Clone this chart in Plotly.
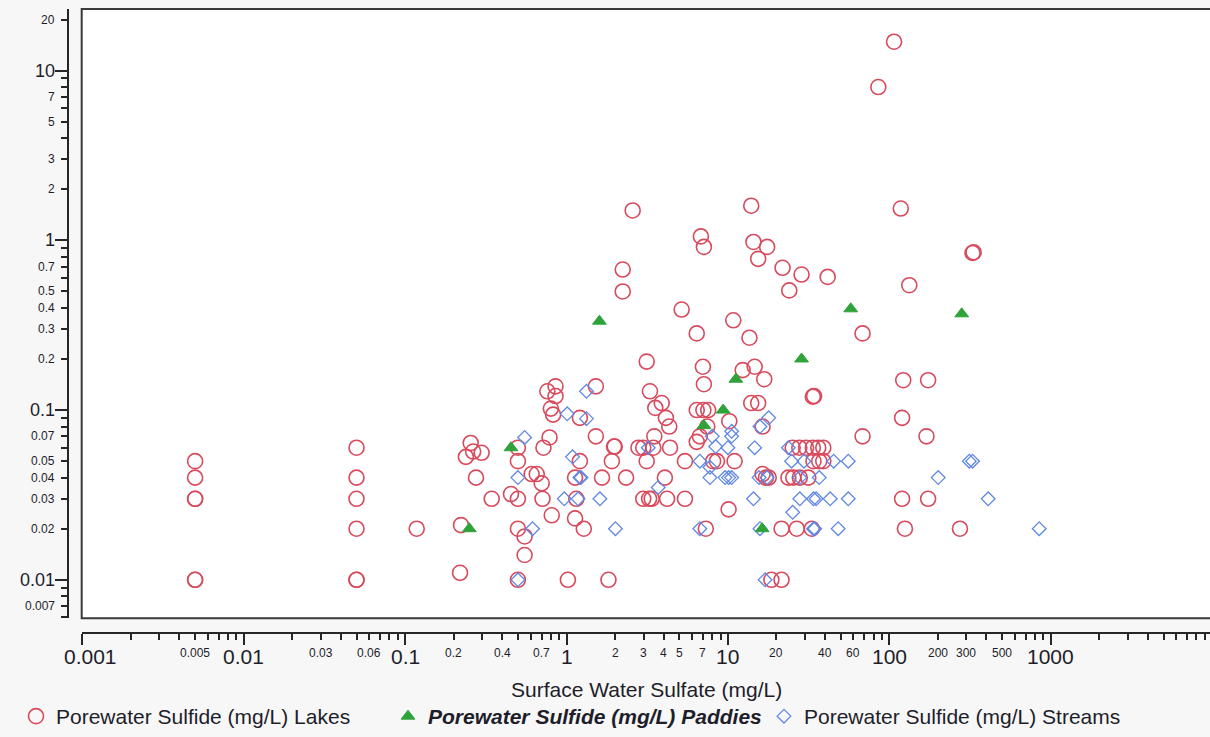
import plotly.graph_objects as go
import math

# ---------------- data ----------------
LAKES_X = [0.005, 0.005, 0.005, 0.005, 0.005, 0.005,
           0.05, 0.05, 0.05, 0.05, 0.05, 0.05,
           0.118, 0.219, 0.222, 0.255, 0.238, 0.264, 0.298, 0.275, 0.344,
           0.50, 0.50, 0.453, 0.50, 0.50, 0.55, 0.55, 0.50,
           0.608, 0.654, 0.702, 0.71, 0.81, 0.72, 0.785,
           0.761, 0.855, 0.855, 0.80, 0.826,
           1.52, 1.21, 1.52, 1.21, 1.13, 1.66, 1.97, 1.99, 1.91, 1.15, 1.13, 1.28, 1.02, 1.82,
           6.41, 13.6, 68.3, 3.14, 7.0, 7.1, 12.35, 14.65, 16.8,
           3.29, 3.55, 3.89, 4.13, 4.33, 6.41, 7.05, 7.55, 10.2, 13.95, 15.4,
           33.6, 34.2, 122, 174, 120, 68.3, 170, 7.45, 6.41, 6.7, 3.5,
           2.79, 2.99, 3.45, 4.38, 16.4,
           25.2, 27.7, 30.5, 33.6, 36.3, 39.0,
           3.14, 5.42, 8.1, 8.55, 11.0, 33.9, 36.8, 39.0,
           2.34, 4.07, 16.4, 17.2, 17.9, 23.7, 25.4, 27.9, 31.5,
           2.99, 3.25, 3.37, 4.2, 5.42, 10.1, 120, 174,
           7.3, 21.5, 26.7, 33.1, 125, 274,
           18.6, 21.5,
           2.57, 13.95, 117.8, 6.8, 7.1, 14.4, 17.5, 15.4, 328, 333,
           2.23, 2.23, 21.8, 28.6, 41.5, 24.0, 133, 5.17, 10.8,
           107, 85.5]
LAKES_Y = [0.05, 0.04, 0.03, 0.03, 0.01, 0.01,
           0.06, 0.04, 0.03, 0.02, 0.01, 0.01,
           0.02, 0.011, 0.021, 0.064, 0.053, 0.057, 0.056, 0.04, 0.03,
           0.06, 0.05, 0.032, 0.03, 0.02, 0.018, 0.014, 0.01,
           0.042, 0.042, 0.037, 0.03, 0.024, 0.06, 0.069,
           0.129, 0.138, 0.121, 0.102, 0.094,
           0.138, 0.09, 0.07, 0.05, 0.04, 0.04, 0.061, 0.061, 0.05, 0.03, 0.023, 0.02, 0.01, 0.01,
           0.283, 0.267, 0.283, 0.193, 0.18, 0.142, 0.172, 0.18, 0.152,
           0.129, 0.103, 0.11, 0.09, 0.08, 0.1, 0.1, 0.1, 0.086, 0.11, 0.11,
           0.12, 0.121, 0.15, 0.15, 0.09, 0.07, 0.07, 0.08, 0.065, 0.07, 0.07,
           0.06, 0.06, 0.06, 0.06, 0.08,
           0.06, 0.06, 0.06, 0.06, 0.06, 0.06,
           0.05, 0.05, 0.05, 0.05, 0.05, 0.05, 0.05, 0.05,
           0.04, 0.04, 0.042, 0.04, 0.04, 0.04, 0.04, 0.04, 0.04,
           0.03, 0.03, 0.03, 0.03, 0.03, 0.026, 0.03, 0.03,
           0.02, 0.02, 0.02, 0.02, 0.02, 0.02,
           0.01, 0.01,
           1.5, 1.6, 1.54, 1.055, 0.915, 0.978, 0.915, 0.778, 0.843, 0.85,
           0.673, 0.5, 0.689, 0.629, 0.609, 0.507, 0.544, 0.391, 0.338,
           14.8, 8.0]

PADDIES_X = [0.25, 0.453, 1.6, 7.1, 9.35, 11.2, 16.3, 28.6, 57.7, 281]
PADDIES_Y = [0.02, 0.06, 0.334, 0.081, 0.1, 0.152, 0.02, 0.2, 0.395, 0.369]

STREAMS_X = [0.55, 0.50, 0.616, 0.50, 1.01, 1.33, 1.33, 1.09, 1.21, 1.23,
             0.969, 1.18, 1.61, 2.01, 3.21, 3.7, 6.7, 7.74, 7.74, 9.6,
             10.1, 10.55, 6.7, 8.0, 10.55, 10.55, 8.4, 10.0, 14.65, 15.8,
             17.9, 23.7, 24.8, 29.6, 45.2, 55.7, 313, 328, 15.6, 17.5,
             27.9, 36.8, 201, 14.4, 27.9, 33.9, 35.2, 43.0, 55.7, 410,
             25.2, 15.8, 33.9, 34.5, 48.2, 849, 17.0]
STREAMS_Y = [0.069, 0.04, 0.02, 0.01, 0.095, 0.129, 0.089, 0.053, 0.04, 0.04,
             0.03, 0.03, 0.03, 0.02, 0.06, 0.035, 0.05, 0.046, 0.04, 0.04,
             0.04, 0.04, 0.02, 0.07, 0.075, 0.07, 0.061, 0.06, 0.06, 0.08,
             0.09, 0.06, 0.05, 0.05, 0.05, 0.05, 0.05, 0.05, 0.04, 0.04,
             0.04, 0.04, 0.04, 0.03, 0.03, 0.03, 0.03, 0.03, 0.03, 0.03,
             0.025, 0.02, 0.02, 0.02, 0.02, 0.02, 0.01]

SERIES_NAMES = ["Porewater Sulfide (mg/L) Lakes",
                "<b><i>Porewater Sulfide (mg/L) Paddies</i></b>",
                "Porewater Sulfide (mg/L) Streams"]
X_TITLE = "Surface Water Sulfate (mg/L)"

X_MAJOR_VALS = [0.001, 0.01, 0.1, 1, 10, 100, 1000]
X_MAJOR_TEXT = ["0.001", "0.01", "0.1", "1", "10", "100", "1000"]
X_MINOR_VALS = [0.005, 0.03, 0.06, 0.2, 0.4, 0.7, 2, 3, 4, 5, 7, 20, 40, 60, 200, 300, 500]
X_MINOR_TEXT = ["0.005", "0.03", "0.06", "0.2", "0.4", "0.7", "2", "3", "4", "5", "7",
                "20", "40", "60", "200", "300", "500"]
Y_MAJOR_VALS = [0.01, 0.1, 1, 10]
Y_MAJOR_TEXT = ["0.01", "0.1", "1", "10"]
Y_MINOR_VALS = [0.007, 0.02, 0.03, 0.04, 0.05, 0.07, 0.2, 0.3, 0.4, 0.5, 0.7, 2, 3, 5, 7, 20]
Y_MINOR_TEXT = ["0.007", "0.02", "0.03", "0.04", "0.05", "0.07", "0.2", "0.3", "0.4", "0.5",
                "0.7", "2", "3", "5", "7", "20"]

X_DECADES = [0.001, 0.01, 0.1, 1, 10, 100, 1000, 10000]
Y_DECADES = [0.001, 0.01, 0.1, 1, 10, 100]

# ---------------- layout geometry ----------------
W, H = 1210, 737
ML, MT, MB = 40, 9, 97
PW = W - ML
PH = H - MT - MB


def fx(p):
    return (p - ML) / PW


def fy(p):
    return (H - MB - p) / PH


FONT = "Liberation Sans, Arial, Helvetica, sans-serif"
TXT = "#1e1e2a"
AX = "#262626"

minor_x = [m * d for d in X_DECADES[:-1] for m in range(2, 10)]
minor_y = [m * d for d in Y_DECADES[:-1] for m in range(2, 10)]

fig = go.Figure()
fig.add_trace(go.Scatter(
    x=LAKES_X, y=LAKES_Y, mode="markers", name=SERIES_NAMES[0], legend="legend",
    marker=dict(symbol="circle-open", size=15, color="#d84a5c", line=dict(width=1.6, color="#d84a5c")),
))
fig.add_trace(go.Scatter(
    x=STREAMS_X, y=STREAMS_Y, mode="markers", name=SERIES_NAMES[2], legend="legend3",
    marker=dict(symbol="diamond-open", size=10.5, color="#6088e4", line=dict(width=1.3, color="#6088e4")),
))
fig.add_trace(go.Scatter(
    x=PADDIES_X, y=PADDIES_Y, mode="markers", name=SERIES_NAMES[1], legend="legend2",
    marker=dict(symbol="triangle-up", size=12, color="#2fa33a", line=dict(width=1, color="#2fa33a")),
))

annotations = []
for v, t in zip(X_MAJOR_VALS, X_MAJOR_TEXT):
    annotations.append(dict(x=math.log10(v), y=fy(658), xref="x", yref="paper", text=t,
                            showarrow=False, xanchor="center", yanchor="middle",
                            xshift=8 if v == 0.001 else 0,
                            font=dict(family=FONT, size=21, color=TXT)))
for v, t in zip(X_MINOR_VALS, X_MINOR_TEXT):
    annotations.append(dict(x=math.log10(v), y=fy(654), xref="x", yref="paper", text=t,
                            showarrow=False, xanchor="center", yanchor="middle",
                            font=dict(family=FONT, size=12, color=TXT)))
for v, t in zip(Y_MAJOR_VALS, Y_MAJOR_TEXT):
    annotations.append(dict(x=fx(57), y=math.log10(v), xref="paper", yref="y", text=t,
                            showarrow=False, xanchor="right", yanchor="middle",
                            font=dict(family=FONT, size=18, color=TXT)))
for v, t in zip(Y_MINOR_VALS, Y_MINOR_TEXT):
    annotations.append(dict(x=fx(57), y=math.log10(v), xref="paper", yref="y", text=t,
                            showarrow=False, xanchor="right", yanchor="middle",
                            font=dict(family=FONT, size=12, color=TXT)))
annotations.append(dict(x=fx(646), y=fy(691), xref="paper", yref="paper", text=X_TITLE,
                        showarrow=False, xanchor="center", yanchor="middle",
                        font=dict(family=FONT, size=21, color=TXT)))

legend_common = dict(orientation="h", xanchor="left", yanchor="middle", y=fy(718),
                     bgcolor="rgba(0,0,0,0)", borderwidth=0,
                     font=dict(family=FONT, size=21, color=TXT))

fig.update_layout(
    width=W, height=H,
    margin=dict(l=ML, r=0, t=MT, b=MB, pad=0),
    paper_bgcolor="#f7f7f7",
    plot_bgcolor="#ffffff",
    showlegend=True,
    legend=dict(x=fx(16), **legend_common),
    legend2=dict(x=fx(388), **legend_common),
    legend3=dict(x=fx(764), **legend_common),
    xaxis=dict(type="log", domain=[fx(82.3), 1], range=[-3, 3.987],
               anchor="free", position=fy(634),
               showline=True, linewidth=2, linecolor=AX, mirror=False,
               ticks="outside", ticklen=11, tickwidth=1.5, tickcolor=AX,
               tickmode="array", tickvals=X_DECADES, showticklabels=False,
               showgrid=False, zeroline=False,
               minor=dict(tickmode="array", tickvals=minor_x, ticks="outside",
                          ticklen=6, tickwidth=1.5, tickcolor=AX, showgrid=False)),
    yaxis=dict(type="log", domain=[fy(619.3), 1], range=[-2.227, 1.363],
               anchor="free", position=fx(67.7), side="left",
               showline=True, linewidth=2, linecolor=AX, mirror=False,
               ticks="outside", ticklen=12, tickwidth=1.5, tickcolor=AX,
               tickmode="array", tickvals=Y_DECADES, showticklabels=False,
               showgrid=False, zeroline=False,
               minor=dict(tickmode="array", tickvals=minor_y, ticks="outside",
                          ticklen=6, tickwidth=1.5, tickcolor=AX, showgrid=False)),
    annotations=annotations,
    shapes=[dict(type="rect", xref="paper", yref="paper",
                 x0=fx(81.7), x1=1.05, y0=fy(619.3), y1=fy(9),
                 line=dict(color="#3a3a3a", width=2), fillcolor="rgba(0,0,0,0)", layer="above")],
)

fig.write_html("out.html")
